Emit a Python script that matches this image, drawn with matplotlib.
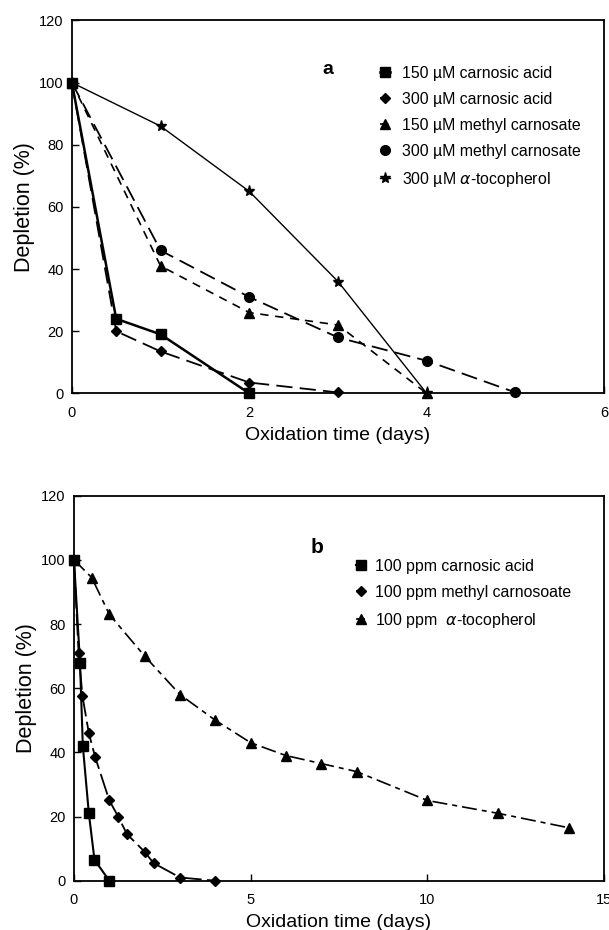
import matplotlib.pyplot as plt

plt.rcParams['font.family'] = ['Liberation Sans', 'DejaVu Sans']

# panel a data
a_ca150_x = [0, 0.5, 1, 2]
a_ca150_y = [100, 24, 19, 0]
a_ca300_x = [0, 0.5, 1, 2, 3]
a_ca300_y = [100, 20, 13.5, 3.5, 0.3]
a_mc150_x = [0, 1, 2, 3, 4]
a_mc150_y = [100, 41, 26, 22, 0]
a_mc300_x = [0, 1, 2, 3, 4, 5]
a_mc300_y = [100, 46, 31, 18, 10.5, 0.3]
a_toc_x = [0, 1, 2, 3, 4]
a_toc_y = [100, 86, 65, 36, 0]

# panel b data
b_ca_x = [0, 0.17, 0.25, 0.42, 0.58, 1]
b_ca_y = [100, 68, 42, 21, 6.5, 0]
b_mc_x = [0, 0.13, 0.24, 0.42, 0.6, 1, 1.25, 1.5, 2, 2.25, 3, 4]
b_mc_y = [100, 71, 57.5, 46, 38.5, 25, 20, 14.5, 9, 5.5, 1, 0]
b_toc_x = [0, 0.5, 1, 2, 3, 4, 5, 6, 7, 8, 10, 12, 14]
b_toc_y = [100, 94.5, 83, 70, 58, 50, 43, 39, 36.5, 34, 25, 21, 16.5]

fig = plt.figure(figsize=(6.09, 9.30), dpi=100)
ax1 = fig.add_axes([0.118, 0.577, 0.874, 0.401])
ax2 = fig.add_axes([0.1215, 0.053, 0.8705, 0.414])

k = dict(color='black', clip_on=False)
ax1.plot(a_ca150_x, a_ca150_y, marker='s', ms=7, lw=1.8, label='150 µM carnosic acid', **k)
ax1.plot(a_ca300_x, a_ca300_y, marker='D', ms=5, lw=1.3, dashes=(9, 4), label='300 µM carnosic acid', **k)
ax1.plot(a_mc150_x, a_mc150_y, marker='^', ms=7, lw=1.2, dashes=(5, 4), label='150 µM methyl carnosate', **k)
ax1.plot(a_mc300_x, a_mc300_y, marker='o', ms=7, lw=1.3, dashes=(9, 4), label='300 µM methyl carnosate', **k)
ax1.plot(a_toc_x, a_toc_y, marker='*', ms=8, lw=1.0, label='300 µM $\\alpha$-tocopherol', **k)

ax2.plot(b_ca_x, b_ca_y, marker='s', ms=7, lw=1.5, label='100 ppm carnosic acid', **k)
ax2.plot(b_mc_x, b_mc_y, marker='D', ms=5, lw=1.3, dashes=(12, 3), label='100 ppm methyl carnosoate', **k)
ax2.plot(b_toc_x, b_toc_y, marker='^', ms=7, lw=1.2, dashes=(9, 3, 3, 3), label='100 ppm  $\\alpha$-tocopherol', **k)

for ax, xmax, xt in [(ax1, 6, [0, 2, 4, 6]), (ax2, 15, [0, 5, 10, 15])]:
    ax.set_xlim(0, xmax)
    ax.set_ylim(0, 120)
    ax.set_xticks(xt)
    ax.set_yticks(range(0, 121, 20))
    ax.tick_params(direction='in', labelsize=10.5, length=5, width=1, pad=6)
    ax.tick_params(axis='x', pad=9)
    for s in ax.spines.values():
        s.set_linewidth(1.3)
    ax.set_xlabel('Oxidation time (days)', fontsize=14, labelpad=5)
    ax.set_ylabel('Depletion (%)', fontsize=15.5, labelpad=3)

ax1.text(2.89, 104.2, 'a', fontsize=14, fontweight='bold', ha='center', va='center')
ax2.text(6.88, 103.8, 'b', fontsize=15, fontweight='bold', ha='center', va='center')

ax1.legend(loc='upper left', bbox_to_anchor=(0.5645, 0.900), frameon=False, fontsize=11.4,
           handlelength=0.6, handletextpad=0.8, labelspacing=0.7, borderpad=0)
ax2.legend(loc='upper left', bbox_to_anchor=(0.517, 0.857), frameon=False, fontsize=11.4,
           handlelength=0.6, handletextpad=0.6, labelspacing=0.7, borderpad=0)

plt.savefig('out.png', dpi=100)
